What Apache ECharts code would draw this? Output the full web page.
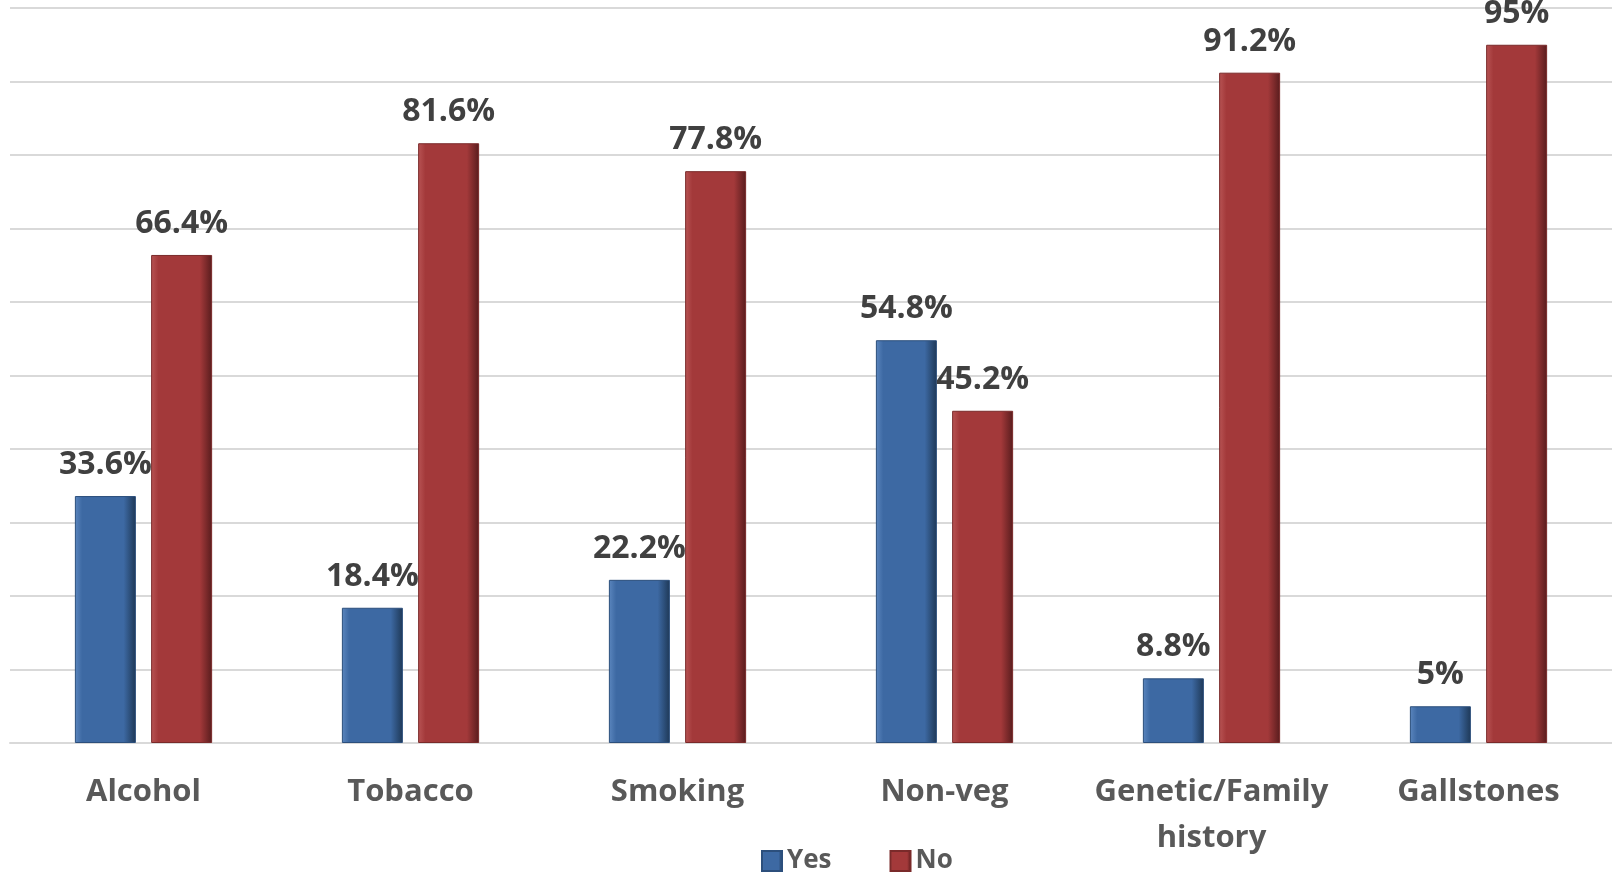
<!DOCTYPE html>
<html>
<head>
<meta charset="utf-8">
<script src="https://cdn.jsdelivr.net/npm/echarts@6/dist/echarts.min.js"></script>
<style>
  html, body { margin: 0; padding: 0; background: #ffffff; }
  #chart { width: 1612px; height: 873px; }
</style>
</head>
<body>
<div id="chart"></div>
<script>
// Risk factors and the share of respondents answering Yes / No (%)
const categories = ['Alcohol', 'Tobacco', 'Smoking', 'Non-veg', 'Genetic/Family\nhistory', 'Gallstones'];
const yesValues = [33.6, 18.4, 22.2, 54.8, 8.8, 5];
const noValues = [66.4, 81.6, 77.8, 45.2, 91.2, 95];
const seriesNames = ['Yes', 'No'];

// Bevelled look: lighter left edge, solid body, dark right edge
function bevel(light, body, dark) {
  return new echarts.graphic.LinearGradient(0, 0, 1, 0, [
    { offset: 0, color: light },
    { offset: 0.12, color: body },
    { offset: 0.8, color: body },
    { offset: 1, color: dark }
  ]);
}
const blueFill = bevel('#5B86BE', '#3D69A3', '#1E3856');
const redFill = bevel('#B85454', '#A3393A', '#581C1D');

const labelStyle = {
  show: true,
  position: 'top',
  distance: 15,
  fontFamily: 'Open Sans',
  fontWeight: 'bold',
  fontSize: 32,
  color: '#404040',
  formatter: p => p.value + '%'
};

const chart = echarts.init(document.getElementById('chart'), null, { renderer: 'canvas' });
chart.setOption({
  animation: false,
  backgroundColor: '#ffffff',
  grid: { left: 10, top: 8, width: 1604, height: 735, containLabel: false },
  legend: {
    data: seriesNames,
    top: 843,
    left: 756,
    itemWidth: 20,
    itemHeight: 20,
    itemGap: 58,
    textStyle: { fontFamily: 'Open Sans', fontWeight: 'bold', fontSize: 26, color: '#595959', padding: [0, 0, 0, 0] },
    icon: 'rect'
  },
  xAxis: {
    type: 'category',
    data: categories,
    axisLine: { show: true, lineStyle: { color: '#D9D9D9', width: 2 } },
    axisTick: { show: false },
    axisLabel: {
      interval: 0,
      margin: 26,
      fontFamily: 'Open Sans',
      fontWeight: 'bold',
      fontSize: 31,
      lineHeight: 46,
      color: '#595959'
    }
  },
  yAxis: {
    type: 'value',
    min: 0,
    max: 100,
    interval: 10,
    axisLabel: { show: false },
    axisLine: { show: false },
    axisTick: { show: false },
    splitLine: { lineStyle: { color: '#D9D9D9', width: 2 } }
  },
  series: [
    {
      name: seriesNames[0],
      type: 'bar',
      data: yesValues,
      barWidth: 61,
      barGap: '25%',
      itemStyle: { color: blueFill, borderColor: '#2C4F7C', borderWidth: 1 },
      label: labelStyle
    },
    {
      name: seriesNames[1],
      type: 'bar',
      data: noValues,
      barWidth: 61,
      itemStyle: { color: redFill, borderColor: '#7A2A2A', borderWidth: 1 },
      label: labelStyle
    }
  ]
});
</script>
</body>
</html>
